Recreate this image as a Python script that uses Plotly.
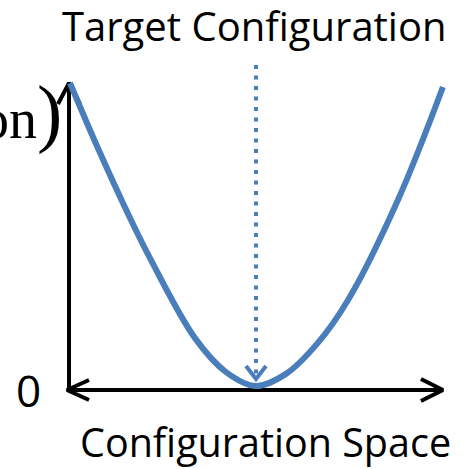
import plotly.graph_objects as go

# ---- data ----
config = [-1.0, -0.855, -0.677, -0.565, -0.328, -0.161, 0.0, 0.161, 0.328, 0.495, 0.763, 1.005]
objective = [1.0, 0.792, 0.554, 0.416, 0.158, 0.046, 0.0, 0.040, 0.139, 0.284, 0.614, 0.987]
target_config = 0.0
title_text = "Target Configuration"
xlabel_text = "Configuration Space"
zero_label = "0"

# ---- layout geometry (pixels) ----
W, H = 473, 470
PX_X0, PX_PER_X = 256.0, 186.0   # pixel of config=0, pixels per config unit
PX_Y0, PX_PER_Y = 386.0, 303.0   # pixel of objective=0, pixels per objective unit

def ux(px):  # pixel length -> x units
    return px / PX_PER_X

def uy(px):
    return px / PX_PER_Y

BLUE = "#4A7EBB"
fig = go.Figure()

# axes (black arrows)
ax_y = -uy(4)
x_left = min(config) - ux(3)
x_right = max(config) - ux(0)
y_top = max(objective)
x_vert = min(config) - ux(1)
black = dict(color="black", width=4)
fig.add_trace(go.Scatter(x=[x_left, x_right], y=[ax_y, ax_y], mode="lines", line=black))
fig.add_trace(go.Scatter(x=[x_vert, x_vert], y=[ax_y, y_top], mode="lines", line=black))
# arrowheads
fig.add_trace(go.Scatter(x=[x_left + ux(22), x_left, x_left + ux(22)],
                         y=[ax_y + uy(10), ax_y, ax_y - uy(10)], mode="lines", line=black))
fig.add_trace(go.Scatter(x=[x_right - ux(22), x_right, x_right - ux(22)],
                         y=[ax_y + uy(11), ax_y, ax_y - uy(11)], mode="lines", line=black))
fig.add_trace(go.Scatter(x=[x_vert - ux(11), x_vert, x_vert + ux(11)],
                         y=[y_top - uy(21), y_top, y_top - uy(21)], mode="lines", line=black))

# objective curve
fig.add_trace(go.Scatter(x=config, y=objective, mode="lines",
                         line=dict(color=BLUE, width=6, shape="spline", smoothing=1.0)))

# dotted target arrow
tip_y = uy(7)
fig.add_trace(go.Scatter(x=[target_config, target_config], y=[uy(386 - 65), tip_y + uy(3)],
                         mode="lines", line=dict(color=BLUE, width=4, dash="4px,6.5px")))
fig.add_trace(go.Scatter(x=[target_config - ux(10), target_config, target_config + ux(10)],
                         y=[tip_y + uy(13), tip_y, tip_y + uy(13)], mode="lines",
                         line=dict(color=BLUE, width=4)))

def px2paper(px, py):
    return px / W, 1 - py / H

ann = []
x, y = px2paper(254, 25)
ann.append(dict(text=title_text, x=x, y=y, xref="paper", yref="paper", showarrow=False,
                xanchor="center", yanchor="middle",
                font=dict(family="Open Sans", size=40, color="black")))
x, y = px2paper(265, 442)
ann.append(dict(text=xlabel_text, x=x, y=y, xref="paper", yref="paper", showarrow=False,
                xanchor="center", yanchor="middle",
                font=dict(family="Open Sans", size=39.5, color="black")))
x, y = px2paper(28, 390)
ann.append(dict(text=zero_label, x=x, y=y, xref="paper", yref="paper", showarrow=False,
                xanchor="center", yanchor="middle",
                font=dict(family="Open Sans", size=44, color="black")))
x, y = px2paper(64, 113)
ann.append(dict(text="on<span style='font-size:76px'>)</span>", x=x, y=y, xref="paper", yref="paper",
                showarrow=False, xanchor="right", yanchor="middle",
                font=dict(family="Liberation Serif", size=56, color="black")))

fig.update_layout(
    width=W, height=H, margin=dict(l=0, r=0, t=0, b=0),
    paper_bgcolor="white", plot_bgcolor="white", showlegend=False,
    xaxis=dict(range=[(0 - PX_X0) / PX_PER_X, (W - PX_X0) / PX_PER_X], visible=False, fixedrange=True),
    yaxis=dict(range=[(PX_Y0 - H) / PX_PER_Y, PX_Y0 / PX_PER_Y], visible=False, fixedrange=True),
    annotations=ann,
)
fig.write_html("out.html", config={"displayModeBar": False},
               post_script="document.body.style.margin='0';document.body.style.overflow='hidden';")
